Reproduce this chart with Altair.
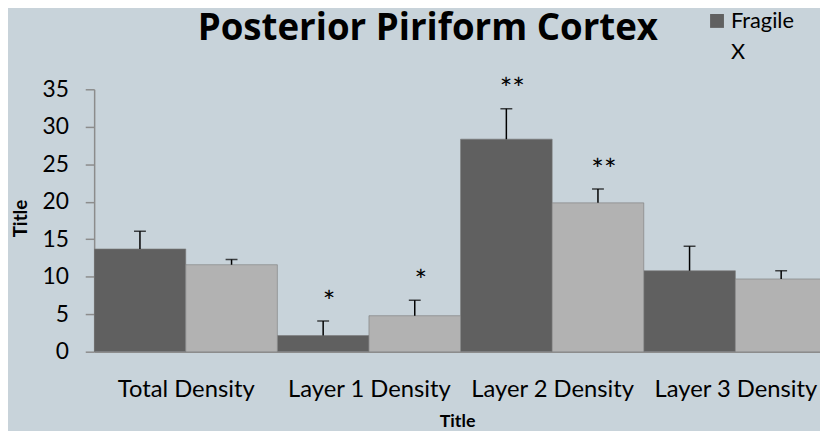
import json
import altair as alt
import pandas as pd

CATEGORIES = ["Total Density", "Layer 1 Density", "Layer 2 Density", "Layer 3 Density"]
SERIES = ["Fragile X", "Control"]
FRAGILE_X = [13.7, 2.15, 28.35, 10.8]
FRAGILE_X_ERR = [2.35, 1.95, 4.05, 3.25]
CONTROL = [11.6, 4.8, 19.85, 9.7]
CONTROL_ERR = [0.7, 2.05, 1.85, 1.1]
FRAGILE_X_SIG = ["", "*", "**", ""]
CONTROL_SIG = ["", "*", "**", ""]
CHART_TITLE = "Posterior Piriform Cortex"

COLORS = ["#606060", "#B2B2B2"]
BG = "#C8D3DA"
AXIS_GRAY = "#8C8C8C"
FONT = "Lato"

rows = []
for s_i, (name, vals, errs, sigs) in enumerate(
    [(SERIES[0], FRAGILE_X, FRAGILE_X_ERR, FRAGILE_X_SIG),
     (SERIES[1], CONTROL, CONTROL_ERR, CONTROL_SIG)]):
    for c_i, cat in enumerate(CATEGORIES):
        x0 = c_i - 0.5 + 0.5 * s_i
        rows.append({
            "category": cat, "series": name, "idx": c_i,
            "x0": x0, "x1": x0 + 0.5, "xc": x0 + 0.25,
            "value": vals[c_i], "top": vals[c_i] + errs[c_i], "sig": sigs[c_i],
        })
df = pd.DataFrame(rows)

label_expr = json.dumps(CATEGORIES) + "[datum.value]"

x_scale = alt.Scale(domain=[-0.5, 3.462], nice=False, zero=False)
y_scale = alt.Scale(domain=[0, 35], nice=False)
color_scale = alt.Scale(domain=SERIES, range=COLORS)

x_axis = alt.Axis(
    title="Title", values=[0, 1, 2, 3], labelExpr=label_expr, ticks=False, tickSize=0,
    grid=False, domainColor=AXIS_GRAY, domainWidth=1.5, labelPadding=26,
    labelFontSize=24, labelFont=FONT, labelColor="#000000", labelFlush=False,
    labelOverlap=False, labelLimit=300,
    titleFont=FONT, titleFontSize=18, titleFontWeight="bold", titleColor="#000000",
    titlePadding=12,
)
y_axis = alt.Axis(
    title="Title", values=list(range(0, 36, 5)), tickCount=8, grid=False,
    domainColor=AXIS_GRAY, domainWidth=1.5, tickColor=AXIS_GRAY, tickWidth=1.5,
    tickSize=9, labelPadding=17,
    labelFontSize=23, labelFont=FONT, labelColor="#000000", labelOverlap=False,
    titleFont=FONT, titleFontSize=19, titleFontWeight="bold", titleColor="#000000",
    titleX=-68, titleY=130, titleBaseline="alphabetic",
)

base = alt.Chart(df)

bars = base.mark_bar(clip=True, strokeWidth=1, stroke="#7A7A7A", strokeOpacity=0.6).encode(
    x=alt.X("x0:Q", scale=x_scale, axis=x_axis),
    x2="x1:Q",
    y=alt.Y("value:Q", scale=y_scale, axis=y_axis),
    y2=alt.datum(0),
    color=alt.Color("series:N", scale=color_scale, legend=None),
)

err_line = base.mark_rule(color="#000000", strokeWidth=1.5, clip=True).encode(
    x=alt.X("xc:Q", scale=x_scale, axis=x_axis),
    y=alt.Y("value:Q", scale=y_scale, axis=y_axis),
    y2="top:Q",
)
err_cap = base.mark_tick(color="#000000", orient="horizontal", size=12, thickness=1.5, clip=True).encode(
    x=alt.X("xc:Q", scale=x_scale, axis=x_axis),
    y=alt.Y("top:Q", scale=y_scale, axis=y_axis),
)
stars = base.transform_filter("datum.sig != ''").mark_text(
    fontSize=30, font=FONT, dy=-9.5, dx=6, baseline="alphabetic", color="#000000"
).encode(
    x=alt.X("xc:Q", scale=x_scale, axis=x_axis),
    y=alt.Y("top:Q", scale=y_scale, axis=y_axis),
    text="sig:N",
)

legend_df = pd.DataFrame({"series": [SERIES[0]]})
leg_sym = alt.Chart(legend_df).mark_square(size=196, opacity=1).encode(
    x=alt.value(629), y=alt.value(-69),
    color=alt.Color("series:N", scale=color_scale, legend=None),
)
leg_txt = alt.Chart(legend_df).transform_calculate(
    lines="split(datum.series, ' ')"
).mark_text(align="left", baseline="top", fontSize=22, font=FONT, lineHeight=31,
            color="#000000").encode(
    x=alt.value(643), y=alt.value(-78.5), text="lines:N"
)

title_df = pd.DataFrame({"title": [CHART_TITLE]})
title_txt = alt.Chart(title_df).mark_text(
    align="center", baseline="alphabetic", fontSize=37, fontWeight="bold",
    font="Open Sans", color="#000000"
).encode(x=alt.value(337), y=alt.value(-49.5), text="title:N")

chart = alt.layer(bars, err_line, err_cap, stars, leg_sym, leg_txt, title_txt).properties(
    width=733, height=265,
    autosize=alt.AutoSizeParams(type="none"),
    padding={"left": 87, "top": 80, "right": 0, "bottom": 78},
).configure(background=BG).configure_view(stroke=None)

chart.save("out.html", embed_options={"renderer": "svg", "actions": False})
